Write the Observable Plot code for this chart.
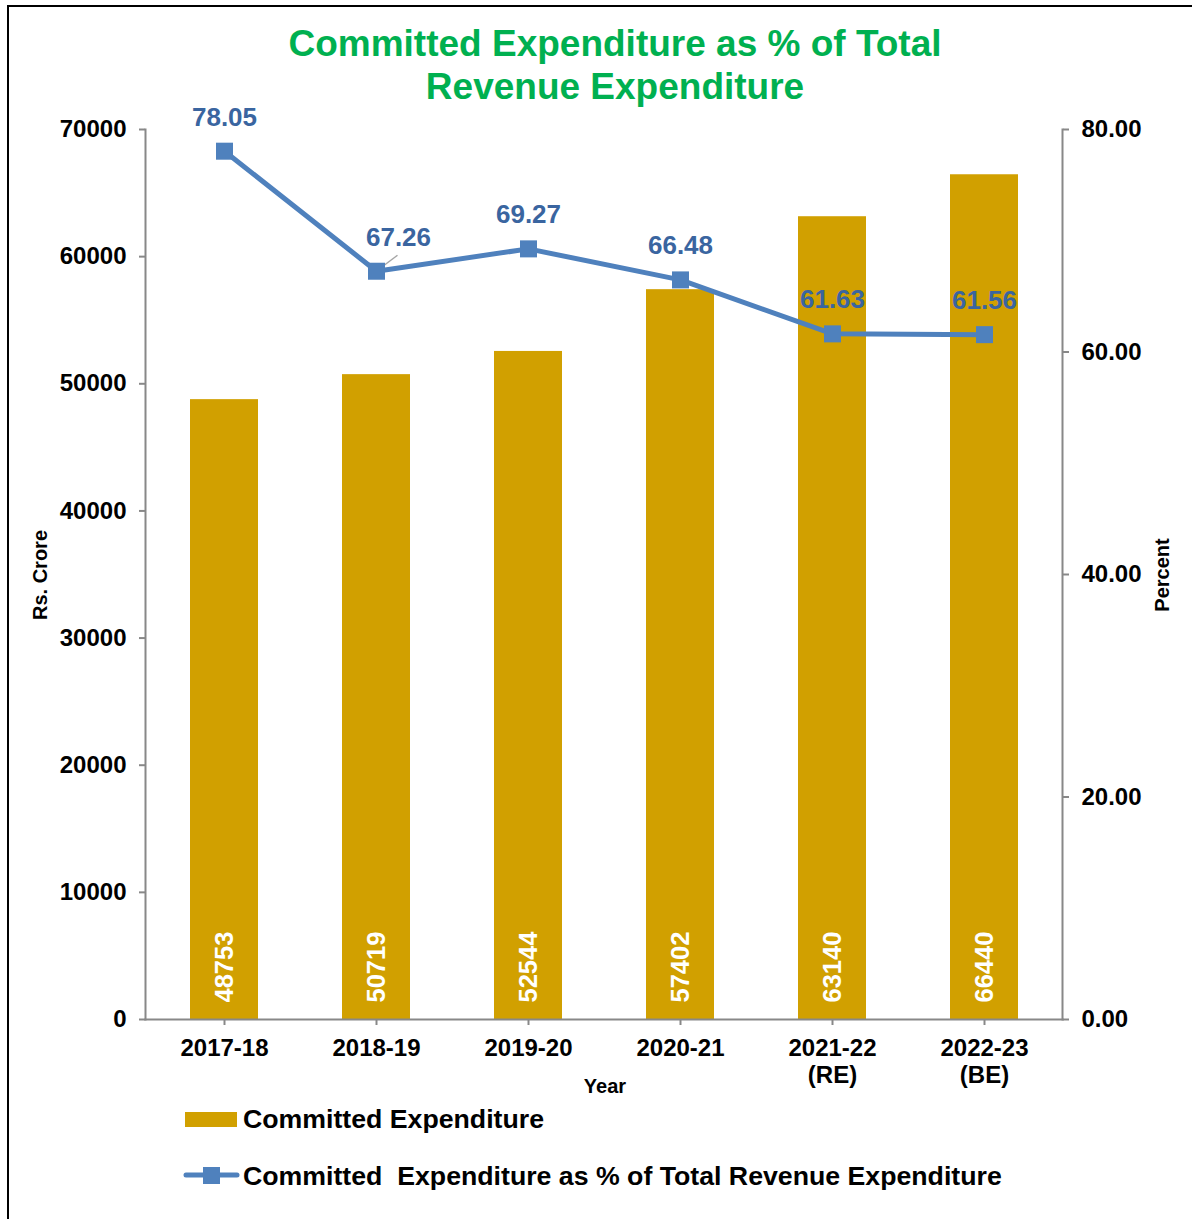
<!DOCTYPE html>
<html><head><meta charset="utf-8">
<script src="https://cdn.jsdelivr.net/npm/d3@7"></script>
<script src="https://cdn.jsdelivr.net/npm/@observablehq/plot@0.6"></script>
<style>
body{margin:0;background:#fff;font-family:"Liberation Sans",Arial,sans-serif;}
#wrap{position:relative;width:1192px;height:1219px;overflow:hidden;background:#fff;}
#border{position:absolute;left:7px;top:5px;width:1220px;height:1240px;border:2px solid #000;box-sizing:border-box;}
#title{position:absolute;left:0;top:22px;width:1230px;text-align:center;color:#00B050;font-weight:bold;font-size:37px;line-height:43px;}
#chart{position:absolute;left:0;top:0;}
.ytitle{position:absolute;width:300px;text-align:center;font-weight:bold;font-size:20px;line-height:24px;transform:rotate(-90deg);transform-origin:center;}
#xtitle{position:absolute;left:505px;top:1074px;width:200px;text-align:center;font-weight:bold;font-size:20px;line-height:24px;}
.leg{position:absolute;left:243px;font-weight:bold;font-size:26.7px;line-height:30px;white-space:pre;color:#000;}
</style></head>
<body>
<div id="wrap">
  <div id="chart"></div>
  <div id="title">Committed Expenditure as % of Total<br>Revenue Expenditure</div>
  <div class="ytitle" style="left:-110px;top:563px;">Rs. Crore</div>
  <div class="ytitle" style="left:1012px;top:563px;">Percent</div>
  <div id="xtitle">Year</div>
  <svg id="legsvg" width="1192" height="1219" style="position:absolute;left:0;top:0;pointer-events:none;">
    <rect x="185" y="1112" width="52" height="15" fill="#D1A000"></rect>
    <line x1="186" y1="1175" x2="237" y2="1175" stroke="#4F81BD" stroke-width="5" stroke-linecap="round"></line>
    <rect x="203" y="1167" width="17" height="17" fill="#4F81BD"></rect>
  </svg>
  <div class="leg" style="top:1104px;">Committed Expenditure</div>
  <div class="leg" style="top:1161px;">Committed  Expenditure as % of Total Revenue Expenditure</div>
  <div id="border"></div>
</div>
<script>
const years = ["2017-18","2018-19","2019-20","2020-21","2021-22\n(RE)","2022-23\n(BE)"];
const committed = [48753,50719,52544,57402,63140,66440];
const percent = [78.05,67.26,69.27,66.48,61.63,61.56];
const leftTicks = [0,10000,20000,30000,40000,50000,60000,70000];
const rightTicks = [0,20,40,60,80];
const leftMax = 70000, rightMax = 80;
const k = leftMax / rightMax;

const data = years.map((y,i)=>({year:y, value:committed[i], pct:percent[i], idx:i}));

const leader = {draw(ctx, size){ ctx.moveTo(1,-1); ctx.lineTo(21,-16); }};

const chart = Plot.plot({
  width:1192, height:1100,
  marginTop:129, marginBottom:81, marginLeft:145, marginRight:130,
  x:{domain:years, paddingInner:0.555, paddingOuter:0.2775, align:0.5},
  y:{domain:[0,leftMax]},
  style:{fontFamily:"'Liberation Sans', Arial, sans-serif", fontWeight:"bold", fontSize:"24px", color:"#000", background:"transparent", overflow:"visible"},
  marks:[
    Plot.barY(data,{x:"year", y:"value", fill:"#D1A000"}),
    Plot.text(data,{x:"year", y:0, text:d=>String(d.value), rotate:-90, textAnchor:"start", dy:-17, fill:"#fff", fontSize:25.5, fontWeight:"bold"}),
    Plot.axisY({ticks:leftTicks, tickSize:6, tickPadding:13, stroke:"#888", strokeWidth:2, fill:"#000", fontSize:24, fontWeight:"bold", label:null, tickFormat:d=>String(d)}),
    Plot.axisY({anchor:"right", ticks:rightTicks.map(v=>v*k), tickFormat:v=>(v/k).toFixed(2), tickSize:6, tickPadding:13, stroke:"#888", strokeWidth:2, fill:"#000", fontSize:24, fontWeight:"bold", label:null}),
    Plot.axisX({tickSize:6, tickPadding:12, stroke:"#888", strokeWidth:2, fill:"#000", fontSize:24, fontWeight:"bold", label:null, lineHeight:1.1}),
    Plot.frame({anchor:"left", stroke:"#888", strokeWidth:2}),
    Plot.frame({anchor:"right", stroke:"#888", strokeWidth:2}),
    Plot.frame({anchor:"bottom", stroke:"#888", strokeWidth:2}),
    Plot.line(data,{x:"year", y:d=>d.pct*k, stroke:"#4F81BD", strokeWidth:5}),
    Plot.dot(data.filter(d=>d.idx===1),{x:"year", y:d=>d.pct*k, symbol:leader, r:10, stroke:"#A6A6A6", strokeWidth:1.5, fill:"none"}),
    Plot.dot(data,{x:"year", y:d=>d.pct*k, symbol:"square", r:9.6, fill:"#4F81BD"}),
    Plot.text(data.filter(d=>d.idx!==1),{x:"year", y:d=>d.pct*k, text:d=>d.pct.toFixed(2), dy:-34, fill:"#3A65A0", fontSize:26, fontWeight:"bold"}),
    Plot.text(data.filter(d=>d.idx===1),{x:"year", y:d=>d.pct*k, text:d=>d.pct.toFixed(2), dy:-34, dx:22, fill:"#3A65A0", fontSize:26, fontWeight:"bold"})
  ]
});
document.getElementById("chart").appendChild(chart);
</script>
</body></html>
